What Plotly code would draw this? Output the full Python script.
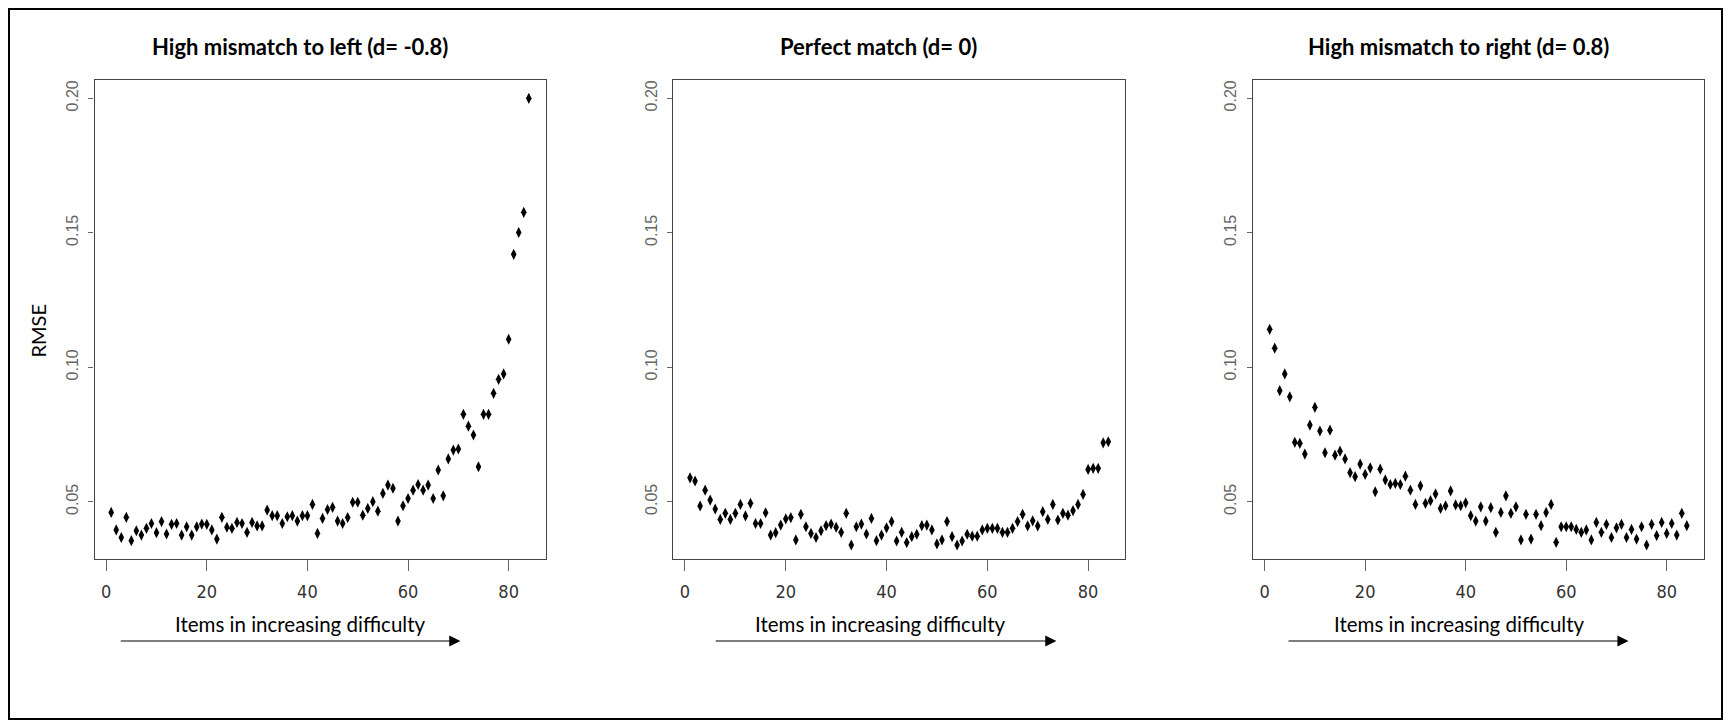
import plotly.graph_objects as go

W, H = 1731, 728

items = list(range(1, 85))

left_vals = [
    0.0460, 0.0395, 0.0367, 0.0442, 0.0355, 0.0392, 0.0376, 0.0401, 0.0419, 0.0385,
    0.0426, 0.0380, 0.0416, 0.0419, 0.0376, 0.0407, 0.0376, 0.0407, 0.0417, 0.0416,
    0.0395, 0.0361, 0.0442, 0.0405, 0.0401, 0.0423, 0.0419, 0.0386, 0.0423, 0.0410,
    0.0410, 0.0469, 0.0448, 0.0448, 0.0419, 0.0444, 0.0448, 0.0428, 0.0448, 0.0448,
    0.0490, 0.0382, 0.0438, 0.0471, 0.0479, 0.0428, 0.0419, 0.0441, 0.0498, 0.0498,
    0.0450, 0.0475, 0.0500, 0.0465, 0.0531, 0.0562, 0.0550, 0.0428, 0.0485, 0.0512,
    0.0543, 0.0564, 0.0543, 0.0562, 0.0512, 0.0618, 0.0522, 0.0659, 0.0692, 0.0696,
    0.0825, 0.0781, 0.0748, 0.0630, 0.0825, 0.0825, 0.0903, 0.0955, 0.0975, 0.1104,
    0.1420, 0.1501, 0.1576, 0.2000,
]

perfect_vals = [
    0.0589, 0.0577, 0.0484, 0.0543, 0.0506, 0.0473, 0.0434, 0.0457, 0.0434, 0.0457,
    0.0490, 0.0447, 0.0494, 0.0419, 0.0419, 0.0459, 0.0376, 0.0385, 0.0413, 0.0436,
    0.0441, 0.0358, 0.0453, 0.0407, 0.0382, 0.0367, 0.0392, 0.0411, 0.0417, 0.0405,
    0.0386, 0.0457, 0.0339, 0.0407, 0.0417, 0.0380, 0.0438, 0.0355, 0.0376, 0.0403,
    0.0426, 0.0354, 0.0386, 0.0348, 0.0370, 0.0379, 0.0411, 0.0413, 0.0395, 0.0343,
    0.0358, 0.0426, 0.0370, 0.0339, 0.0354, 0.0379, 0.0372, 0.0372, 0.0395, 0.0401,
    0.0401, 0.0401, 0.0386, 0.0386, 0.0401, 0.0426, 0.0453, 0.0410, 0.0429, 0.0410,
    0.0463, 0.0434, 0.0490, 0.0432, 0.0457, 0.0450, 0.0467, 0.0490, 0.0527, 0.0620,
    0.0624, 0.0624, 0.0719, 0.0723,
]

right_vals = [
    0.1141, 0.1071, 0.0913, 0.0975, 0.0890, 0.0721, 0.0717, 0.0677, 0.0785, 0.0851,
    0.0763, 0.0682, 0.0766, 0.0673, 0.0688, 0.0659, 0.0608, 0.0593, 0.0640, 0.0602,
    0.0626, 0.0537, 0.0621, 0.0581, 0.0564, 0.0568, 0.0564, 0.0595, 0.0543, 0.0490,
    0.0559, 0.0494, 0.0504, 0.0529, 0.0475, 0.0485, 0.0540, 0.0488, 0.0485, 0.0496,
    0.0448, 0.0428, 0.0481, 0.0428, 0.0478, 0.0386, 0.0460, 0.0522, 0.0457, 0.0481,
    0.0358, 0.0453, 0.0361, 0.0453, 0.0411, 0.0460, 0.0490, 0.0349, 0.0407, 0.0407,
    0.0407, 0.0397, 0.0386, 0.0395, 0.0358, 0.0423, 0.0386, 0.0416, 0.0367, 0.0403,
    0.0416, 0.0367, 0.0397, 0.0361, 0.0407, 0.0339, 0.0416, 0.0374, 0.0423, 0.0382,
    0.0419, 0.0376, 0.0457, 0.0411,
]

titles = [
    "High mismatch to left (d= -0.8)",
    "Perfect match (d= 0)",
    "High mismatch to right (d= 0.8)",
]
series = [left_vals, perfect_vals, right_vals]

x_ticks = [0, 20, 40, 60, 80]
y_ticks = [0.05, 0.10, 0.15, 0.20]
y_label = "RMSE"
x_label = "Items in increasing difficulty"

# layout geometry (pixels)
panel_px = [(94.5, 545.5), (673.3, 1125.0), (1253.0, 1703.5)]
plot_top, plot_bottom = 80, 559
x_range = [-2.32, 87.32]
y_range = [0.0287, 0.2068]

fig = go.Figure()

TITLE_FONT = "Lato, 'Open Sans', sans-serif"
NARROW_FONT = "'Liberation Sans Narrow', 'DejaVu Sans Condensed', 'Arial Narrow', sans-serif"

annotations = []
for i, (vals, title) in enumerate(zip(series, titles)):
    sfx = "" if i == 0 else str(i + 1)
    fig.add_trace(go.Scatter(
        x=items, y=vals, mode="markers",
        marker=dict(symbol="diamond-tall", size=8, color="black",
                    line=dict(width=0)),
        xaxis="x" + sfx, yaxis="y" + sfx, showlegend=False,
        hoverinfo="x+y",
    ))
    x0, x1 = panel_px[i]
    fig.layout["xaxis" + sfx] = dict(
        domain=[x0 / W, x1 / W], anchor="y" + sfx, range=x_range,
        showline=True, mirror=True, linecolor="#444", linewidth=1.3,
        ticks="outside", ticklen=11, tickcolor="#666", tickwidth=1,
        tickvals=x_ticks, ticklabelstandoff=5,
        tickfont=dict(family=NARROW_FONT, size=18, color="#333"),
        showgrid=False, zeroline=False,
    )
    fig.layout["yaxis" + sfx] = dict(
        domain=[1 - plot_bottom / H, 1 - plot_top / H], anchor="x" + sfx,
        range=y_range,
        showline=True, mirror=True, linecolor="#444", linewidth=1.3,
        ticks="outside", ticklen=5, tickcolor="#666", tickwidth=1,
        tickvals=y_ticks, tickformat=".2f", tickangle=-90,
        ticklabelstandoff=4,
        tickfont=dict(family="Arial, 'Liberation Sans', sans-serif", size=16, color="#666"),
        showgrid=False, zeroline=False,
    )
    # panel title
    annotations.append(dict(
        text="<b>" + title + "</b>", x=38.5, y=1 - 47 / H,
        xref="x" + sfx, yref="paper", showarrow=False,
        xanchor="center", yanchor="middle",
        font=dict(family=TITLE_FONT, size=22, color="black"),
    ))
    # x label
    annotations.append(dict(
        text=x_label, x=38.7, y=1 - 624 / H,
        xref="x" + sfx, yref="paper", showarrow=False,
        xanchor="center", yanchor="middle",
        font=dict(family=TITLE_FONT, size=20.5, color="black"),
    ))

arrow_span = [(2.6, 70.4), (5.8, 73.7), (4.45, 72.4)]
for i, (a0, a1) in enumerate(arrow_span):
    sfx = "" if i == 0 else str(i + 1)
    annotations.append(dict(
        text="", x=a1, y=1 - 641 / H, xref="x" + sfx, yref="paper",
        ax=a0, ay=0, axref="x" + sfx, ayref="pixel",
        showarrow=True, arrowhead=2, arrowsize=1.85, arrowwidth=1.2,
        arrowcolor="black", standoff=0, startstandoff=0,
    ))

annotations.append(dict(
    text=y_label, x=37.5 / W, y=1 - 331 / H, xref="paper", yref="paper",
    showarrow=False, textangle=-90, xanchor="center", yanchor="middle",
    font=dict(family=TITLE_FONT, size=20, color="black"),
))

fig.update_layout(
    width=W, height=H, autosize=False,
    margin=dict(l=0, r=0, t=0, b=0),
    paper_bgcolor="white", plot_bgcolor="white",
    annotations=annotations,
    shapes=[dict(type="rect", xref="paper", yref="paper",
                 x0=9 / W, x1=1722 / W, y0=1 - 719 / H, y1=1 - 9 / H,
                 line=dict(color="black", width=2))],
)

fig.write_html("out.html")
